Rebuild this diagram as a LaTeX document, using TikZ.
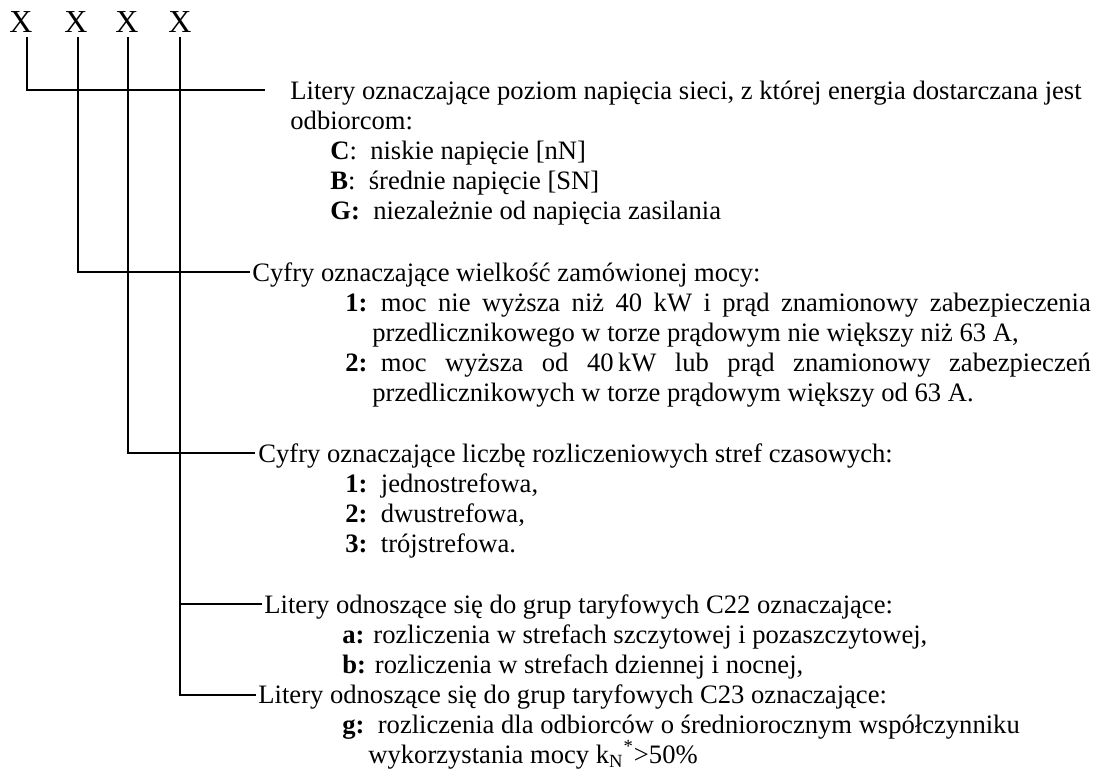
\documentclass[tikz,border=0pt]{standalone}
\usepackage{fontspec}
\setmainfont{Liberation Serif}
\usetikzlibrary{positioning}

\tikzset{
  opis/.style={anchor=base west, inner sep=0pt, font=\fontsize{13.3}{16}\selectfont},
  znak/.style={anchor=base, inner sep=0pt, font=\fontsize{16}{19}\selectfont},
  linia/.style={line width=1pt, shorten <=2.5pt},
}
\newcommand{\wiersz}[2]{\textbf{#1}\ \ \makebox[355pt][s]{#2}}

\begin{document}
\begin{tikzpicture}[x=0.5pt, y=-0.5pt]
        \useasboundingbox (0,0) rectangle (1114,778);
        \begin{scope}
            \node[znak](X1) at (21,32){X};
            \node[znak](X2) at (76,32){X};
            \node[znak](X3) at (127,32){X};
            \node[znak](X4) at (180,32){X};
        \end{scope}
        \begin{scope}
            \node[opis](napiecie) at (290,99){Litery oznaczające poziom napięcia sieci, z której energia dostarczana jest};
            \node[opis](napiecie2) at (290,129){odbiorcom:};
            \node[opis](nN) at (330,159){\textbf{C}:\ \ niskie napięcie [nN]};
            \node[opis](SN) at (330,189){\textbf{B}:\ \ średnie napięcie [SN]};
            \node[opis](G) at (330,219){\textbf{G:}\ \ niezależnie od napięcia zasilania};
            \node[opis](moc) at (252,281){Cyfry oznaczające wielkość zamówionej mocy:};
            \node[opis](moc1) at (345,311){\wiersz{1:}{moc nie wyższa niż 40 kW i prąd znamionowy zabezpieczenia}};
            \node[opis](moc1b) at (372,341){przedlicznikowego w torze prądowym nie większy niż 63 A,};
            \node[opis](moc2) at (345,371){\wiersz{2:}{moc wyższa od 40\,kW lub prąd znamionowy zabezpieczeń}};
            \node[opis](moc2b) at (372,401){przedlicznikowych w torze prądowym większy od 63 A.};
            \node[opis](strefy) at (258,462){Cyfry oznaczające liczbę rozliczeniowych stref czasowych:};
            \node[opis](strefy1) at (345,492){\textbf{1:}\ \ jednostrefowa,};
            \node[opis](strefy2) at (345,522){\textbf{2:}\ \ dwustrefowa,};
            \node[opis](strefy3) at (345,552){\textbf{3:}\ \ trójstrefowa.};
            \node[opis](Ca) at (264,613){Litery odnoszące się do grup taryfowych C22 oznaczające:};
            \node[opis](Ca1) at (342,643){\textbf{a:} rozliczenia w strefach szczytowej i pozaszczytowej,};
            \node[opis](Ca2) at (342,673){\textbf{b:} rozliczenia w strefach dziennej i nocnej,};
            \node[opis](Cb) at (258,703){Litery odnoszące się do grup taryfowych C23 oznaczające:};
            \node[opis](Cb1) at (342,733){\textbf{g:}\ \ rozliczenia dla odbiorców o średniorocznym współczynniku};
            \node[opis](Cb2) at (368,763){wykorzystania mocy k\textsubscript{N}\textsuperscript{*}>50\%};
        \end{scope}
        \coordinate (h1) at (265,90);
        \coordinate (h2) at (250,272);
        \coordinate (h3) at (255,453);
        \coordinate (h4) at (262,604);
        \coordinate (h5) at (256,695);
        \draw[linia] ([xshift=3pt]X1.south) |- (h1);
        \draw[linia] ([xshift=1pt]X2.south) |- (h2);
        \draw[linia] ([xshift=0.5pt]X3.south) |- (h3);
        \draw[linia] (X4.south) |- (h5);
        \draw[line width=1pt] (X4.south |- h4) -- (h4);
    \end{tikzpicture}
\end{document}
